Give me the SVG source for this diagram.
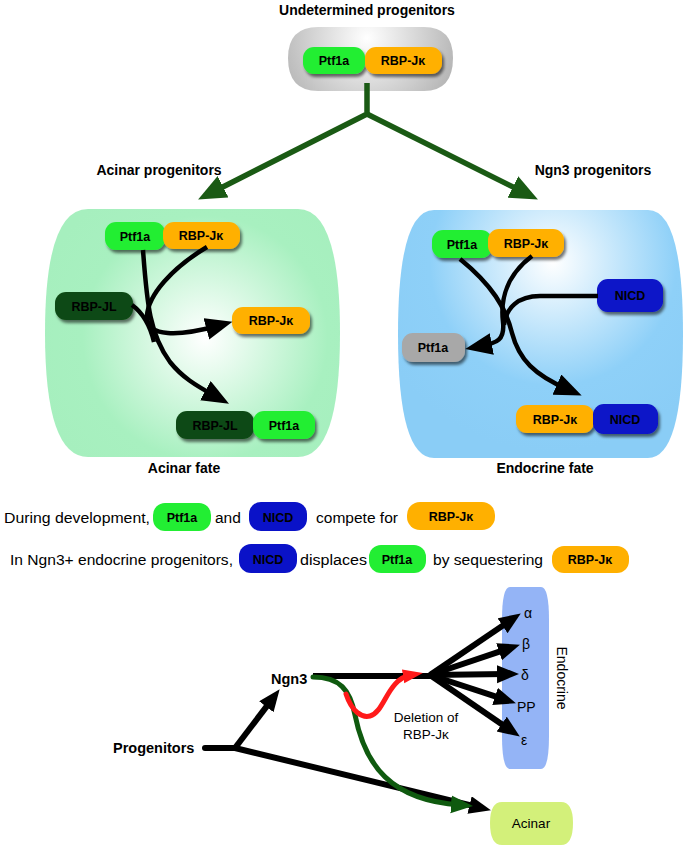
<svg xmlns="http://www.w3.org/2000/svg" width="697" height="850" viewBox="0 0 697 850">
<defs>
<style>
.t{font-family:"Liberation Sans",Arial,sans-serif;fill:#000}
.b{font-weight:bold;font-size:14px}
.pl{font-family:"Liberation Sans",Arial,sans-serif;font-weight:bold;font-size:12.5px;text-anchor:middle;fill:#000}
.body{font-size:15.5px}
.g{fill:#22ee33}.o{fill:#ffb000}.dg{fill:#0e4a14}.bl{fill:#0a12c8}.gr{fill:#a8a8a8}
.ln{fill:none;stroke:#000;stroke-width:4.5}
.fan{fill:none;stroke:#000;stroke-width:6}
</style>
<filter id="sh" x="-20%" y="-30%" width="150%" height="180%">
<feDropShadow dx="2" dy="3" stdDeviation="1.5" flood-color="#000" flood-opacity="0.55"/>
</filter>
<radialGradient id="gGray" gradientUnits="userSpaceOnUse" cx="367" cy="38" r="95">
<stop offset="0" stop-color="#ffffff"/><stop offset="1" stop-color="#b3b3b3"/>
</radialGradient>
<radialGradient id="gGreen" gradientUnits="userSpaceOnUse" cx="205" cy="338" r="175">
<stop offset="0" stop-color="#ffffff"/><stop offset="0.7" stop-color="#a8f0c0"/><stop offset="1" stop-color="#a6efbe"/>
</radialGradient>
<radialGradient id="gBlue" gradientUnits="userSpaceOnUse" cx="553" cy="262" r="190">
<stop offset="0" stop-color="#ffffff"/><stop offset="0.65" stop-color="#8ed0f8"/><stop offset="1" stop-color="#8acdf6"/>
</radialGradient>
<marker id="ag" markerUnits="userSpaceOnUse" markerWidth="30" markerHeight="26" refX="12" refY="12" orient="auto">
<path d="M0,0 L28,12 L0,24 Z" fill="#1a5a14"/>
</marker>
<marker id="ab" markerUnits="userSpaceOnUse" markerWidth="28" markerHeight="24" refX="11" refY="11" orient="auto">
<path d="M0,0 L27,11 L0,22 Z" fill="#000"/>
</marker>
<marker id="as" markerUnits="userSpaceOnUse" markerWidth="24" markerHeight="20" refX="9" refY="9" orient="auto">
<path d="M0,0 L22,9 L0,18 Z" fill="#000"/>
</marker>
<marker id="agr" markerUnits="userSpaceOnUse" markerWidth="24" markerHeight="20" refX="9" refY="9" orient="auto">
<path d="M0,0 L22,9 L0,18 Z" fill="#0f5a0f"/>
</marker>
<marker id="ar" markerUnits="userSpaceOnUse" markerWidth="22" markerHeight="16" refX="8" refY="7" orient="auto">
<path d="M0,0 L20,7 L0,14 Z" fill="#ff1a1a"/>
</marker>
</defs>

<rect width="697" height="850" fill="#ffffff"/>

<!-- Top: undetermined progenitors -->
<g id="undetermined">
<text class="t b" x="367" y="15" text-anchor="middle">Undetermined progenitors</text>
<path d="M318,27 H424 Q453,27 453,58 Q453,91 424,91 H318 Q288,91 288,58 Q288,27 318,27 Z" fill="url(#gGray)"/>
<g filter="url(#sh)">
<rect class="g" x="303" y="47" width="62" height="27" rx="11"/>
<rect class="o" x="365" y="47" width="77" height="27" rx="11"/>
</g>
<text class="pl" x="334" y="65">Ptf1a</text>
<text class="pl" x="403" y="65">RBP-Jκ</text>
</g>

<text class="t b" x="159" y="175" text-anchor="middle">Acinar progenitors</text>
<text class="t b" x="593" y="175" text-anchor="middle">Ngn3 progenitors</text>

<!-- Acinar panel -->
<g id="acinar-panel">
<path d="M88,209 H298 Q340,209 340,333 Q340,457 298,457 H88 Q45,457 45,333 Q45,209 88,209 Z" fill="url(#gGreen)"/>
<g filter="url(#sh)">
<rect class="g" x="105" y="222" width="60" height="28" rx="11"/>
<rect class="o" x="163" y="222" width="77" height="27" rx="11"/>
<rect class="dg" x="55" y="292" width="78" height="28" rx="11"/>
<rect class="o" x="232" y="307" width="78" height="27" rx="11"/>
<rect class="dg" x="176" y="411" width="78" height="28" rx="11"/>
<rect class="g" x="253" y="411" width="62" height="28" rx="11"/>
</g>
<text class="pl" x="135" y="241">Ptf1a</text>
<text class="pl" x="201" y="240">RBP-Jκ</text>
<text class="pl" x="94" y="311" fill="#111">RBP-JL</text>
<text class="pl" x="271" y="325">RBP-Jκ</text>
<text class="pl" x="215" y="430" fill="#111">RBP-JL</text>
<text class="pl" x="284" y="430">Ptf1a</text>
<text class="t b" x="184" y="473" text-anchor="middle">Acinar fate</text>
</g>

<!-- Endocrine panel -->
<g id="endocrine-panel">
<path d="M434,210 H648 Q683,210 683,334 Q683,458 648,458 H434 Q398,458 398,334 Q398,210 434,210 Z" fill="url(#gBlue)"/>
<g filter="url(#sh)">
<rect class="g" x="432" y="230" width="60" height="28" rx="11"/>
<rect class="o" x="488" y="229" width="76" height="28" rx="11"/>
<rect class="bl" x="597" y="279" width="66" height="33" rx="11"/>
<rect class="gr" x="402" y="333" width="63" height="29" rx="11"/>
<rect class="o" x="516" y="405" width="78" height="28" rx="11"/>
<rect class="bl" x="593" y="404" width="65" height="30" rx="11"/>
</g>
<text class="pl" x="462" y="249">Ptf1a</text>
<text class="pl" x="526" y="248">RBP-Jκ</text>
<text class="pl" x="630" y="300">NICD</text>
<text class="pl" x="433" y="352">Ptf1a</text>
<text class="pl" x="555" y="424">RBP-Jκ</text>
<text class="pl" x="625" y="424">NICD</text>
<text class="t b" x="545" y="473" text-anchor="middle">Endocrine fate</text>
</g>

<!-- Statements -->
<g id="statement-1">
<text class="t body" x="4" y="523" textLength="146" lengthAdjust="spacingAndGlyphs">During development,</text>
<rect class="g" x="153" y="503" width="58" height="28" rx="12"/>
<text class="pl" x="182" y="522">Ptf1a</text>
<text class="t body" x="215" y="523">and</text>
<rect class="bl" x="249" y="502" width="58" height="29" rx="12"/>
<text class="pl" x="278" y="522">NICD</text>
<text class="t body" x="316" y="523" textLength="82" lengthAdjust="spacingAndGlyphs">compete for</text>
<rect class="o" x="407" y="502" width="88" height="28" rx="13"/>
<text class="pl" x="451" y="521">RBP-Jκ</text>
</g>
<g id="statement-2">
<text class="t body" x="10" y="565" textLength="223" lengthAdjust="spacingAndGlyphs">In Ngn3+ endocrine progenitors,</text>
<rect class="bl" x="239" y="544" width="58" height="29" rx="12"/>
<text class="pl" x="268" y="564">NICD</text>
<text class="t body" x="300" y="565" textLength="67" lengthAdjust="spacingAndGlyphs">displaces</text>
<rect class="g" x="369" y="545" width="57" height="28" rx="12"/>
<text class="pl" x="397" y="564">Ptf1a</text>
<text class="t body" x="433" y="565" textLength="110" lengthAdjust="spacingAndGlyphs">by sequestering</text>
<rect class="o" x="552" y="546" width="77" height="27" rx="12"/>
<text class="pl" x="590" y="564">RBP-Jκ</text>
</g>

<!-- Bottom lineage -->
<g id="endocrine-bar">
<path d="M510,587 H541 Q549,587 549,620 V736 Q549,769 541,769 H510 Q502,769 502,736 V620 Q502,587 510,587 Z" fill="#94b4f6"/>
<text class="t" font-size="14" transform="translate(557,678) rotate(90)" text-anchor="middle">Endocrine</text>
</g>
<g id="acinar-box">
<path d="M502,802 H561 Q573,802 573,823 Q573,845 561,845 H502 Q490,845 490,823 Q490,802 502,802 Z" fill="#d3f07a"/>
<text class="t" font-size="13.5" x="531" y="828" text-anchor="middle">Acinar</text>
</g>
<g id="labels">
<text class="t" font-weight="bold" font-size="14.5" x="113" y="753">Progenitors</text>
<text class="t" font-weight="bold" font-size="14.5" x="271" y="684">Ngn3</text>
<text class="t" font-size="14" x="524" y="618">α</text>
<text class="t" font-size="14" x="522" y="649">β</text>
<text class="t" font-size="14" x="521" y="680">δ</text>
<text class="t" font-size="14" x="517" y="712">PP</text>
<text class="t" font-size="14" x="521" y="745">ε</text>
<text class="t" font-size="13.5" x="426" y="722" text-anchor="middle">Deletion of</text>
<text class="t" font-size="13.5" x="426" y="739" text-anchor="middle">RBP-Jκ</text>
</g>

<g id="connectors">
<!-- top green -->
<path d="M367,83 V114 L212.4,192.2" fill="none" stroke="#1a5a14" stroke-width="5.5" marker-end="url(#ag)"/>
<path d="M367,114 L523.6,192.3" fill="none" stroke="#1a5a14" stroke-width="5.5" marker-end="url(#ag)"/>
<!-- acinar panel -->
<path class="ln" d="M143,250 C147,305 150,335 170,362 C182,377 195,385 215,396" marker-end="url(#ab)"/>
<path class="ln" d="M132,305 C143,313 150,325 154,342"/>
<path class="ln" d="M207,247 C172,268 148,295 147,316 C146,338 180,336 217,326" marker-end="url(#ab)"/>
<!-- endocrine panel -->
<path class="ln" d="M460,259 C492,285 506,308 512,333 C519,360 535,375 567,389" marker-end="url(#ab)"/>
<path class="ln" d="M532,256 C508,274 500,298 503,322 C505,340 497,343 481,346" marker-end="url(#ab)"/>
<path class="ln" d="M598,296 H540 C518,296 506,308 504,325"/>
<!-- bottom lineage -->
<path class="fan" d="M205,748 H235" stroke-linecap="round"/>
<path class="fan" d="M235,748 L271.8,699.6" marker-end="url(#as)"/>
<path class="fan" d="M235,748 L478.3,807.2" marker-end="url(#as)"/>
<path class="fan" d="M313,676 H432"/>
<path class="fan" d="M430,675 L510,620.7" marker-end="url(#as)"/>
<path class="fan" d="M430,675 L507.6,648.8" marker-end="url(#as)"/>
<path class="fan" d="M430,675 L506,674.1" marker-end="url(#as)"/>
<path class="fan" d="M430,675 L503.6,699.2" marker-end="url(#as)"/>
<path class="fan" d="M430,675 L509.1,729.2" marker-end="url(#as)"/>
<path d="M313,677 C340,677 350,690 355,715 C365,765 390,800 460,805" fill="none" stroke="#0f5a0f" stroke-width="5" stroke-linecap="round" marker-end="url(#agr)"/>
<path d="M346,694 C352,712 362,718 370,716 C385,712 387,679 411,675" fill="none" stroke="#ff1a1a" stroke-width="5" stroke-linecap="round" marker-end="url(#ar)"/>
</g>
</svg>
